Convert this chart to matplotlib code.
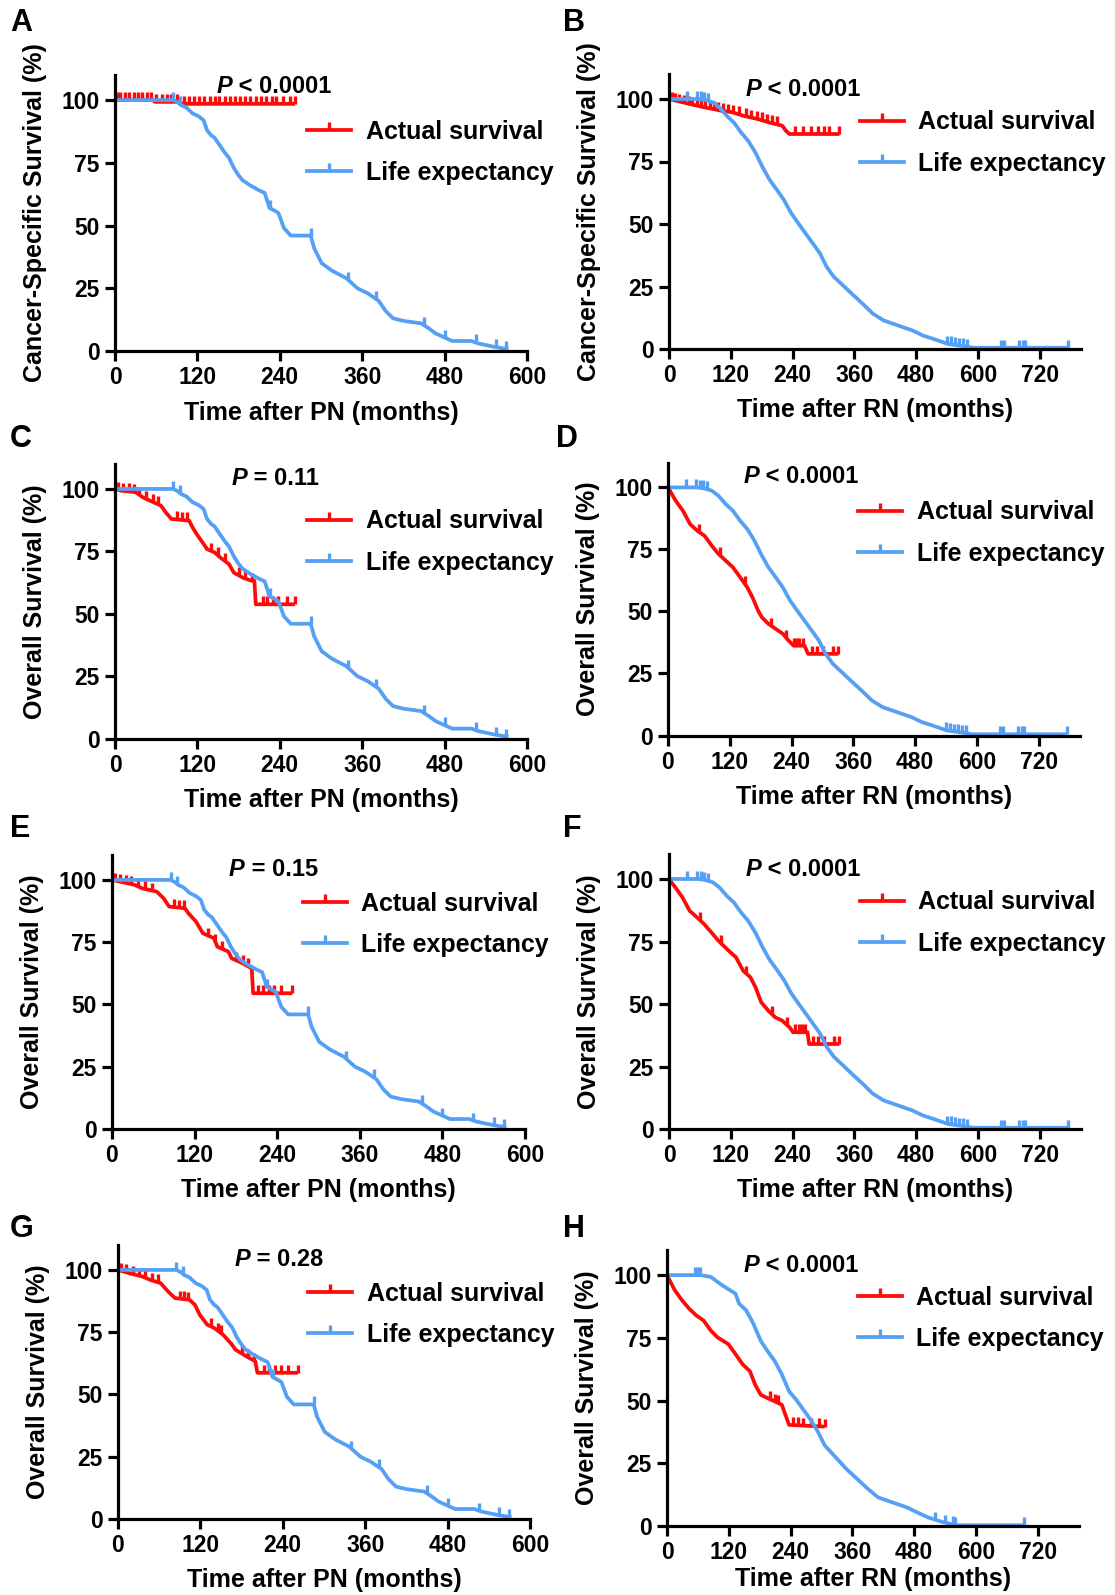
import numpy as np
import matplotlib
matplotlib.use("Agg")
import matplotlib.pyplot as plt
from matplotlib.lines import Line2D

plt.rcParams['font.family'] = ['Liberation Sans', 'DejaVu Sans']
plt.rcParams['font.weight'] = 'bold'
plt.rcParams['axes.labelweight'] = 'bold'

RED = '#ff0a0a'
BLUE = '#55a0f5'

# ---- curves (months, survival %) ----
# life expectancy after PN (A, C, E, G)
pn_life_t = [0, 85, 92, 96, 104, 113, 122, 129, 134, 140, 145, 150, 155, 160, 166, 173, 180, 186,
             197, 210, 218, 225, 232, 238, 246, 256, 285, 290, 301, 316, 337, 353, 368, 384, 394,
             405, 420, 446, 457, 467, 483, 491, 519, 529, 555, 573]
pn_life_s = [100, 100, 99, 98, 97, 94.7, 93.5, 92, 88, 86, 85, 83, 81, 79, 77, 73, 70, 68,
             66, 64, 63, 57, 56, 55, 49, 46, 46, 41, 35, 32, 29, 25, 23, 20, 16,
             13, 12, 11, 9, 7, 5, 4, 4, 3, 1.5, 0.7]
pn_life_cens = [85, 95, 225, 285, 340, 380, 450, 480, 525, 555, 570]

# A: cancer-specific survival after PN
pn_css_t = [0, 55, 58, 95, 98, 262]
pn_css_s = [100, 100, 99.3, 99.3, 98.5, 98.5]
pn_css_cens = [3, 8, 14, 20, 27, 33, 40, 47, 52, 60, 68, 75, 82, 90, 100, 108, 115, 122, 130, 138,
               145, 152, 160, 168, 175, 182, 190, 197, 205, 212, 220, 228, 235, 245, 255, 262]

# C: overall survival after PN
pn_os_c_t = [0, 9, 30, 41, 51, 67, 74, 82, 108, 113, 119, 129, 134, 145, 153, 166, 173, 186,
             199, 203, 205, 262]
pn_os_c_s = [100, 99.3, 98.7, 96.6, 95.3, 93.3, 90.6, 88, 87.3, 84.6, 81.9, 78, 75.9, 74.6, 72.6,
             69.9, 66.5, 64.5, 63.2, 63.2, 53.8, 53.8]
pn_os_c_cens = [5, 12, 20, 28, 35, 45, 55, 62, 90, 98, 105, 140, 150, 160, 180, 190, 200, 215,
                222, 230, 238, 250, 262]

# E: overall survival after PN (subgroup)
pn_os_e_t = [0, 12, 33, 44, 65, 75, 83, 106, 111, 122, 132, 148, 153, 169, 174, 190, 203, 205, 262]
pn_os_e_s = [100, 99.3, 98, 96.6, 95.3, 92.6, 89.3, 88.6, 86.6, 83.3, 78.6, 76.6, 73.2, 71.2, 68.5,
             66.5, 64.5, 54.5, 54.5]
pn_os_e_cens = [5, 12, 20, 28, 38, 48, 58, 90, 98, 104, 140, 150, 160, 180, 190, 198, 212, 220,
                228, 236, 245, 262]

# G: overall survival after PN (subgroup)
pn_os_g_t = [0, 16, 36, 47, 62, 73, 83, 104, 112, 119, 130, 140, 153, 166, 171, 187, 200, 203, 262]
pn_os_g_s = [100, 98.7, 97.3, 96, 94.7, 91.3, 88.7, 88, 86, 82, 78, 76.7, 74, 70, 68, 65.3, 63.3,
             58.7, 58.7]
pn_os_g_cens = [5, 12, 22, 30, 40, 50, 58, 90, 96, 102, 135, 145, 150, 180, 190, 198, 212, 220,
                228, 238, 248, 262]

# life expectancy after RN (B, D, F)
rn_life_t = [0, 57, 70, 85, 98, 112, 126, 140, 154, 168, 181, 195, 209, 223, 237, 251, 265, 279,
             293, 306, 320, 334, 355, 376, 396, 417, 445, 473, 493, 514, 542, 577, 590, 775]
rn_life_s = [100, 100, 99.6, 98.7, 96.6, 93.3, 90.6, 86.6, 83.2, 78.5, 73, 67.8, 63.8, 59.7, 54.4,
             50.3, 46.3, 42.3, 38.3, 32.9, 28.9, 26.2, 22.1, 18.1, 14.1, 11.4, 9.4, 7.4, 5.4, 4, 2,
             1, 0.5, 0.5]
rn_life_cens = [35, 55, 62, 68, 75, 540, 548, 556, 563, 570, 578, 645, 650, 680, 688, 692, 775]

# life expectancy after RN (H)
rn_life_h_t = [0, 65, 85, 98, 112, 133, 140, 154, 168, 182, 195, 209, 223, 237, 251, 265, 279, 293,
               306, 327, 348, 369, 390, 410, 438, 466, 486, 507, 535, 562, 694]
rn_life_h_s = [100, 100, 99.3, 97.3, 95.3, 92.6, 88.6, 85.9, 80.5, 73.8, 69.8, 65.8, 60.4, 53.7,
               50.3, 46.3, 42.3, 37.6, 32.2, 27.5, 22.8, 18.8, 14.8, 11.4, 9.4, 7.4, 5.4, 3.4, 1.6,
               0.3, 0.3]
rn_life_h_cens = [55, 60, 65, 520, 540, 555, 560, 694]

# B: cancer-specific survival after RN
rn_css_t = [0, 40, 68, 102, 123, 144, 172, 193, 220, 227, 234, 331]
rn_css_s = [100, 98, 96.7, 95.3, 94.7, 93.3, 92, 90.7, 89.3, 87.3, 86, 86]
rn_css_cens = [5, 12, 20, 30, 38, 45, 55, 62, 70, 80, 88, 95, 105, 115, 125, 135, 150, 160, 170,
               180, 190, 200, 210, 245, 260, 275, 290, 300, 310, 331]

# D: overall survival after RN
rn_os_d_t = [0, 15, 29, 43, 57, 71, 85, 98, 112, 126, 140, 154, 164, 175, 182, 195, 209, 223, 234,
             244, 265, 272, 331]
rn_os_d_s = [100, 94.6, 90.6, 85.2, 82.5, 80.5, 76.5, 73.2, 70.5, 67.8, 63.8, 59.7, 55.7, 50.3,
             47.7, 45, 43, 41, 38.3, 36.2, 36.2, 32.9, 32.9]
rn_os_d_cens = [60, 100, 150, 200, 230, 245, 250, 255, 262, 280, 290, 300, 320, 331]

# F: overall survival after RN (subgroup)
rn_os_f_t = [0, 12, 26, 40, 54, 68, 82, 96, 116, 130, 144, 158, 168, 179, 193, 206, 220, 234, 241,
             269, 272, 331]
rn_os_f_s = [100, 96.7, 92.7, 87.3, 84.7, 82, 78.7, 75.3, 71.3, 68.7, 63.3, 60.7, 56.7, 50.7, 47.3,
             44.7, 43.3, 40.7, 38.7, 38.7, 34, 34]
rn_os_f_cens = [60, 100, 150, 200, 230, 245, 252, 258, 265, 280, 290, 300, 320, 331]

# H: overall survival after RN (subgroup)
rn_os_h_t = [0, 15, 29, 43, 57, 71, 85, 98, 119, 133, 147, 161, 171, 182, 195, 209, 223, 230, 237, 306]
rn_os_h_s = [100, 94, 90, 86.6, 83.9, 81.9, 77.9, 75.2, 72.5, 68.5, 64.4, 61.7, 56.4, 52.3, 51,
             49.7, 48.3, 44.3, 40.3, 39.6]
rn_os_h_cens = [200, 210, 215, 245, 255, 265, 280, 295, 306]

p_labels = ['< 0.0001', '< 0.0001', '= 0.11', '< 0.0001', '= 0.15', '< 0.0001', '= 0.28', '< 0.0001']
legend_labels = ['Actual survival', 'Life expectancy']
pn_ticks = [0, 120, 240, 360, 480, 600]
rn_ticks = [0, 120, 240, 360, 480, 600, 720]
y_ticks = [0, 25, 50, 75, 100]

W, H = 1115, 1595
fig = plt.figure(figsize=(W / 100, H / 100), dpi=100)

LW = 2.7


def km(ax, t, s, cens, color):
    ax.plot(t, s, color=color, lw=LW, clip_on=False, solid_capstyle='butt')
    ax.plot(cens, np.interp(cens, t, s), ls='none', marker=2, ms=5.5, mew=2.4,
            color=color, clip_on=False)


def panel(letter, box, letter_xy, xmax, xticks, red, blue, ylabel, xlabel, ptxt, p_xy, leg_xy,
          xlab_y=-0.18):
    x0, y0, x1, ytop = box
    ax = fig.add_axes([x0 / W, 1 - y0 / H, (x1 - x0) / W, (y0 - ytop) / H])
    km(ax, *red, RED)
    km(ax, *blue, BLUE)
    ax.set_xlim(0, xmax)
    ax.set_ylim(0, 110)
    ax.set_xticks(xticks)
    ax.set_yticks(y_ticks)
    for side in ['top', 'right']:
        ax.spines[side].set_visible(False)
    for side in ['left', 'bottom']:
        ax.spines[side].set_linewidth(2.3)
    ax.tick_params(direction='out', length=7, width=2.3, labelsize=16.5, pad=4)
    ax.set_ylabel(ylabel, fontsize=18)
    ax.set_xlabel(xlabel, fontsize=18)
    ax.yaxis.set_label_coords(-0.165, 0.5)
    ax.xaxis.set_label_coords(0.5, xlab_y)

    t1 = ax.text(p_xy[0], p_xy[1], 'P', style='italic', fontsize=17, fontweight='bold',
                 va='center')
    ax.annotate(' ' + ptxt, xy=(1, 0), xycoords=t1, va='bottom', fontsize=17,
                fontweight='bold')

    handles = [Line2D([], [], color=RED, lw=LW, marker=2, ms=5.5, mew=2.4),
               Line2D([], [], color=BLUE, lw=LW, marker=2, ms=5.5, mew=2.4)]
    ax.legend(handles, legend_labels, loc='center left', bbox_to_anchor=(leg_xy[0], leg_xy[1] - 0.01),
              frameon=False, prop={'size': 18, 'weight': 'bold'}, handlelength=1.76,
              handletextpad=0.57, labelspacing=0.69, borderpad=0, borderaxespad=0, numpoints=1)

    fig.text(letter_xy[0] / W, 1 - letter_xy[1] / H, letter, fontsize=22, fontweight='bold',
             ha='left', va='top')
    return ax


css = 'Cancer-Specific Survival (%)'
osl = 'Overall Survival (%)'
pn_x = 'Time after PN (months)'
rn_x = 'Time after RN (months)'

panel('A', (115, 351, 527, 75), (10, 8), 600, pn_ticks,
      (pn_css_t, pn_css_s, pn_css_cens), (pn_life_t, pn_life_s, pn_life_cens),
      css, pn_x, p_labels[0], (148, 105.5), (0.467, 0.73))
panel('B', (669, 349, 1081, 74), (563, 8), 800, rn_ticks,
      (rn_css_t, rn_css_s, rn_css_cens), (rn_life_t, rn_life_s, rn_life_cens),
      css, rn_x, p_labels[1], (148, 104), (0.464, 0.759))
panel('C', (115, 738.6, 527, 464), (10, 424), 600, pn_ticks,
      (pn_os_c_t, pn_os_c_s, pn_os_c_cens), (pn_life_t, pn_life_s, pn_life_cens),
      osl, pn_x, p_labels[2], (170, 104.3), (0.467, 0.726))
panel('D', (668, 735.5, 1080, 462.6), (556, 424), 800, rn_ticks,
      (rn_os_d_t, rn_os_d_s, rn_os_d_cens), (rn_life_t, rn_life_s, rn_life_cens),
      osl, rn_x, p_labels[3], (146, 104.3), (0.462, 0.752))
panel('E', (112, 1129, 525, 855), (10, 814), 600, pn_ticks,
      (pn_os_e_t, pn_os_e_s, pn_os_e_cens), (pn_life_t, pn_life_s, pn_life_cens),
      osl, pn_x, p_labels[4], (170, 104.3), (0.462, 0.756))
panel('F', (669, 1129, 1081, 854), (563, 814), 800, rn_ticks,
      (rn_os_f_t, rn_os_f_s, rn_os_f_cens), (rn_life_t, rn_life_s, rn_life_cens),
      osl, rn_x, p_labels[5], (148, 103.9), (0.464, 0.759))
panel('G', (118, 1519, 530, 1245), (10, 1214), 600, pn_ticks,
      (pn_os_g_t, pn_os_g_s, pn_os_g_cens), (pn_life_t, pn_life_s, pn_life_cens),
      osl, pn_x, p_labels[6], (170, 104.3), (0.462, 0.756))
panel('H', (667, 1526, 1079, 1250), (563, 1214), 800, rn_ticks,
      (rn_os_h_t, rn_os_h_s, rn_os_h_cens), (rn_life_h_t, rn_life_h_s, rn_life_h_cens),
      osl, rn_x, p_labels[7], (148, 103.9), (0.464, 0.763), xlab_y=-0.15)

fig.savefig('out.png', dpi=100, facecolor='white')
